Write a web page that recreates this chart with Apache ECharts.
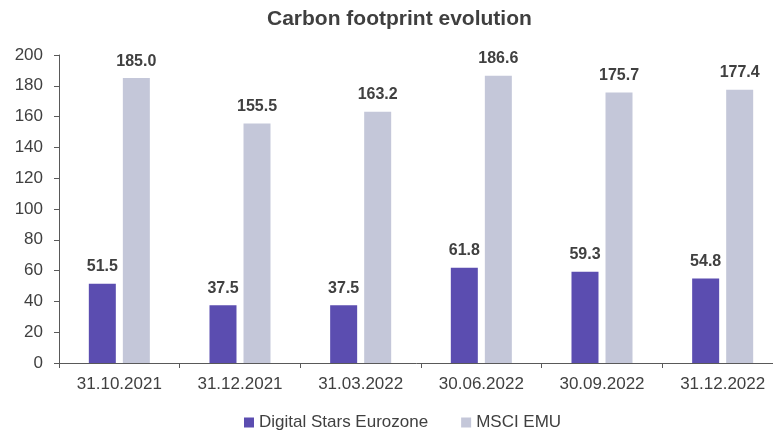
<!DOCTYPE html>
<html>
<head>
<meta charset="utf-8">
<script src="https://cdn.jsdelivr.net/npm/echarts@6/dist/echarts.min.js"></script>
<style>html,body{margin:0;padding:0;background:#fff}#c{width:773px;height:432px}</style>
</head>
<body>
<div id="c"></div>
<script>
const categories = ['31.10.2021','31.12.2021','31.03.2022','30.06.2022','30.09.2022','31.12.2022'];
const digitalStars = [51.5, 37.5, 37.5, 61.8, 59.3, 54.8];
const msciEmu = [185.0, 155.5, 163.2, 186.6, 175.7, 177.4];
const yTicks = [0, 200, 20];

const font = 'Liberation Sans, Arial, sans-serif';
const txt = '#404040';
const chart = echarts.init(document.getElementById('c'), null, {renderer:'canvas'});
const lbl = {show:true, position:'top', distance:9, fontFamily:font, fontSize:16, fontWeight:'bold', color:txt, formatter: p => p.value.toFixed(1)};
chart.setOption({
  animation:false,
  textStyle:{fontFamily:font},
  title:{text:'Carbon footprint evolution', left:267, top:9, padding:0, textStyle:{fontFamily:font, fontSize:21, fontWeight:'bold', color:'#3f3f3f'}},
  grid:{left:59, width:724, top:55, bottom:69, containLabel:false, outerBoundsMode:'none'},
  legend:{bottom:1, left:244, padding:0, itemWidth:10, itemHeight:10, itemGap:33, icon:'rect', textStyle:{fontFamily:font, fontSize:17, color:txt}, data:['Digital Stars Eurozone','MSCI EMU']},
  xAxis:{type:'category', data:categories,
    axisLine:{lineStyle:{color:'#595959', width:1}},
    axisTick:{show:true, length:5, lineStyle:{color:'#595959'}},
    axisLabel:{fontFamily:font, fontSize:17, color:txt, margin:13}},
  yAxis:{type:'value', min:yTicks[0], max:yTicks[1], interval:yTicks[2],
    axisLine:{show:true, lineStyle:{color:'#595959', width:1}},
    axisTick:{show:true, length:5, lineStyle:{color:'#595959'}},
    splitLine:{show:false},
    axisLabel:{fontFamily:font, fontSize:17, color:txt, margin:16}},
  series:[
    {name:'Digital Stars Eurozone', type:'bar', data:digitalStars, barWidth:27, barGap:'26%', itemStyle:{color:'#5b4db0'}, label:lbl},
    {name:'MSCI EMU', type:'bar', data:msciEmu, barWidth:27, itemStyle:{color:'#c4c7d9'}, label:lbl}
  ]
});
</script>
</body>
</html>
